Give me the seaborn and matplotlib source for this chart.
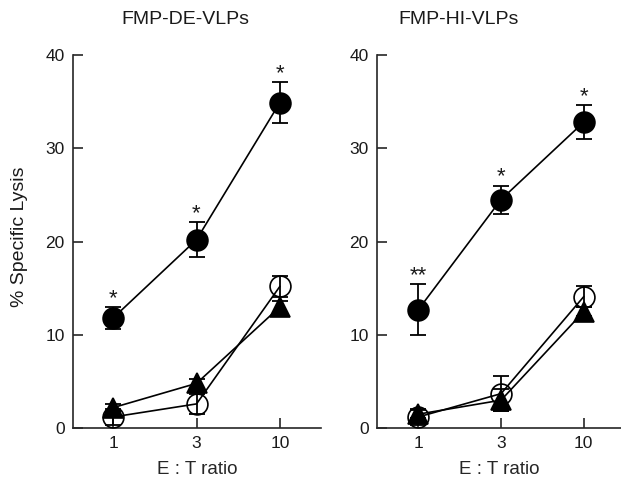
import numpy as np
import matplotlib
matplotlib.use("Agg")
import matplotlib.pyplot as plt
import seaborn as sns

# E:T ratios (plotted at equal spacing)
ratios = ["1", "3", "10"]

# FMP-DE-VLPs panel
de_filled = [11.8, 20.2, 34.9]
de_filled_err = [1.2, 1.9, 2.2]
de_open = [1.2, 2.6, 15.2]
de_open_err = [0.9, 1.1, 1.1]
de_tri = [2.2, 4.8, 13.0]
de_tri_err = [0.4, 0.5, 0.6]
de_stars = ["*", "*", "*"]

# FMP-HI-VLPs panel
hi_filled = [12.7, 24.5, 32.8]
hi_filled_err = [2.7, 1.5, 1.8]
hi_open = [1.2, 3.7, 14.1]
hi_open_err = [0.9, 1.9, 1.1]
hi_tri = [1.5, 3.0, 12.5]
hi_tri_err = [0.4, 1.2, 0.5]
hi_stars = ["**", "*", "*"]

sns.set_style("ticks")
plt.rcParams['font.family'] = ['Liberation Sans', 'DejaVu Sans']
plt.rcParams['text.color'] = '#1a1a1a'
plt.rcParams['xtick.labelcolor'] = '#1a1a1a'
plt.rcParams['ytick.labelcolor'] = '#1a1a1a'


def draw_panel(ax, filled, filled_err, opn, opn_err, tri, tri_err, stars, xlim):
    pos = np.arange(len(ratios))
    series = [
        (opn, opn_err, 'o', 'none', 3, 15),
        (tri, tri_err, '^', 'black', 4, 14.5),
        (filled, filled_err, 'o', 'black', 5, 15),
    ]
    for vals, err, mk, fc, z, ms in series:
        ax.errorbar(pos, vals, yerr=err, fmt='none', ecolor='black',
                    elinewidth=1.3, capsize=5.5, capthick=1.3, zorder=2)
        sns.lineplot(x=pos, y=vals, ax=ax, color='black', linewidth=1.2,
                     marker=mk, markersize=ms, markerfacecolor=fc,
                     markeredgecolor='black', markeredgewidth=1.2, zorder=z)
    for p, v, e, s in zip(pos, filled, filled_err, stars):
        ax.text(p, v + e + 0.9, s, ha='center', va='center', fontsize=16)

    ax.set_xlim(*xlim)
    ax.set_ylim(0, 40)
    ax.set_xticks(pos)
    ax.set_xticklabels(ratios)
    ax.set_yticks([0, 10, 20, 30, 40])
    ax.tick_params(direction='in', length=7, width=1.2, labelsize=12.5, pad=6)
    for sp in ['left', 'bottom']:
        ax.spines[sp].set_linewidth(1.2)
    sns.despine(ax=ax)
    ax.set_xlabel("E : T ratio", fontsize=13.5, labelpad=7)


fig = plt.figure(figsize=(6.21, 4.86), dpi=100)
ax1 = fig.add_axes([0.1176, 0.119, 0.399, 0.768])
ax2 = fig.add_axes([0.607, 0.119, 0.393, 0.768])

draw_panel(ax1, de_filled, de_filled_err, de_open, de_open_err,
           de_tri, de_tri_err, de_stars, (-0.48, 2.49))
draw_panel(ax2, hi_filled, hi_filled_err, hi_open, hi_open_err,
           hi_tri, hi_tri_err, hi_stars, (-0.50, 2.45))

ax1.set_ylabel("")
ax2.set_ylabel("")
fig.text(20 / 621, 1 - 237 / 486, "% Specific Lysis", rotation=90,
         ha='center', va='center', fontsize=14)

fig.text(185 / 621, 1 - 20 / 486, "FMP-DE-VLPs", ha='center', va='center', fontsize=14)
fig.text(459 / 621, 1 - 20 / 486, "FMP-HI-VLPs", ha='center', va='center', fontsize=14)

fig.savefig("out.png", dpi=100)
